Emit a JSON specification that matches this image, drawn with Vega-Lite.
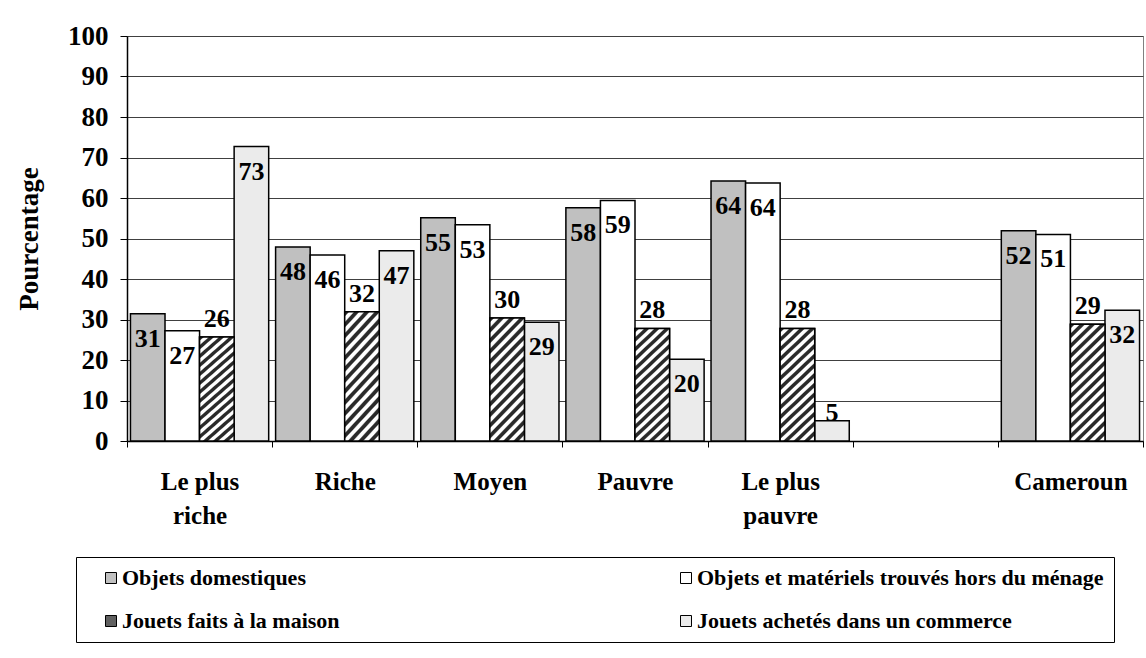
{
  "$schema": "https://vega.github.io/schema/vega-lite/v6.json",
  "width": 1016,
  "height": 405,
  "autosize": {"type": "none"},
  "padding": {"left": 127, "top": 36, "right": 3, "bottom": 217},
  "background": "white",
  "config": {
    "font": "Liberation Serif",
    "view": {"stroke": "#808080", "strokeWidth": 1}
  },
  "data": {
    "values": [
      {"cat": "Le plus riche", "serie": "Objets domestiques", "val": 31.4},
      {"cat": "Le plus riche", "serie": "Objets et matériels trouvés hors du ménage", "val": 27.2},
      {"cat": "Le plus riche", "serie": "Jouets faits à la maison", "val": 25.7},
      {"cat": "Le plus riche", "serie": "Jouets achetés dans un commerce", "val": 72.7},
      {"cat": "Riche", "serie": "Objets domestiques", "val": 47.9},
      {"cat": "Riche", "serie": "Objets et matériels trouvés hors du ménage", "val": 45.9},
      {"cat": "Riche", "serie": "Jouets faits à la maison", "val": 31.9},
      {"cat": "Riche", "serie": "Jouets achetés dans un commerce", "val": 47.0},
      {"cat": "Moyen", "serie": "Objets domestiques", "val": 55.1},
      {"cat": "Moyen", "serie": "Objets et matériels trouvés hors du ménage", "val": 53.4},
      {"cat": "Moyen", "serie": "Jouets faits à la maison", "val": 30.4},
      {"cat": "Moyen", "serie": "Jouets achetés dans un commerce", "val": 29.3},
      {"cat": "Pauvre", "serie": "Objets domestiques", "val": 57.6},
      {"cat": "Pauvre", "serie": "Objets et matériels trouvés hors du ménage", "val": 59.4},
      {"cat": "Pauvre", "serie": "Jouets faits à la maison", "val": 27.8},
      {"cat": "Pauvre", "serie": "Jouets achetés dans un commerce", "val": 20.2},
      {"cat": "Le plus pauvre", "serie": "Objets domestiques", "val": 64.2},
      {"cat": "Le plus pauvre", "serie": "Objets et matériels trouvés hors du ménage", "val": 63.7},
      {"cat": "Le plus pauvre", "serie": "Jouets faits à la maison", "val": 27.8},
      {"cat": "Le plus pauvre", "serie": "Jouets achetés dans un commerce", "val": 5.0},
      {"cat": "Cameroun", "serie": "Objets domestiques", "val": 51.9},
      {"cat": "Cameroun", "serie": "Objets et matériels trouvés hors du ménage", "val": 51.0},
      {"cat": "Cameroun", "serie": "Jouets faits à la maison", "val": 28.8},
      {"cat": "Cameroun", "serie": "Jouets achetés dans un commerce", "val": 32.3}
    ]
  },
  "encoding": {
    "x": {
      "field": "cat",
      "type": "nominal",
      "scale": {
        "domain": ["Le plus riche", "Riche", "Moyen", "Pauvre", "Le plus pauvre", " ", "Cameroun"],
        "paddingInner": 0,
        "paddingOuter": 0
      },
      "axis": {
        "title": null,
        "labelAngle": 0,
        "tickBand": "extent",
        "tickSize": 6,
        "tickColor": "black",
        "tickWidth": 1,
        "domainColor": "black",
        "domainWidth": 1.5,
        "labelFontSize": 25,
        "labelFontWeight": "bold",
        "labelColor": "black",
        "labelPadding": 22,
        "labelLineHeight": 34,
        "labelExpr": "datum.value == 'Le plus riche' ? ['Le plus', 'riche'] : datum.value == 'Le plus pauvre' ? ['Le plus', 'pauvre'] : datum.value",
        "grid": false
      }
    },
    "xOffset": {
      "field": "serie",
      "type": "nominal",
      "scale": {
        "domain": ["Objets domestiques", "Objets et matériels trouvés hors du ménage", "Jouets faits à la maison", "Jouets achetés dans un commerce"],
        "paddingInner": 0,
        "paddingOuter": 0.1
      }
    },
    "y": {
      "field": "val",
      "type": "quantitative",
      "scale": {"domain": [0, 100], "nice": false},
      "axis": {
        "title": "Pourcentage",
        "titleFontSize": 27,
        "titleFontWeight": "bold",
        "titleColor": "black",
        "titlePadding": 24,
        "values": [0, 10, 20, 30, 40, 50, 60, 70, 80, 90, 100],
        "grid": true,
        "gridColor": "#404040",
        "gridWidth": 1,
        "domainColor": "black",
        "domainWidth": 1.5,
        "tickColor": "black",
        "tickSize": 7,
        "labelFontSize": 27,
        "labelFontWeight": "bold",
        "labelColor": "black",
        "labelPadding": 12
      }
    }
  },
  "layer": [
    {
      "mark": {"type": "bar", "stroke": "black", "strokeWidth": 1.5},
      "encoding": {
        "color": {
          "field": "serie",
          "type": "nominal",
          "scale": {
            "domain": ["Objets domestiques", "Objets et matériels trouvés hors du ménage", "Jouets faits à la maison", "Jouets achetés dans un commerce"],
            "range": ["#c0c0c0", "#ffffff", "#606060", "#ebebeb"]
          },
          "legend": {
            "title": null,
            "orient": "none",
            "direction": "horizontal",
            "legendX": -51,
            "legendY": 521,
            "columns": 2,
            "columnPadding": 321,
            "rowPadding": 21,
            "padding": 10,
            "strokeColor": "black",
            "fillColor": "white",
            "symbolType": "square",
            "symbolSize": 121,
            "symbolStrokeColor": "black",
            "symbolStrokeWidth": 1,
            "symbolOffset": 14,
            "labelOffset": 0,
            "labelFontSize": 22,
            "labelFontWeight": "bold",
            "labelColor": "black",
            "labelLimit": 600
          }
        }
      }
    },
    {
      "transform": [{"filter": "datum.serie == 'Jouets faits à la maison'"}],
      "mark": {
        "type": "bar",
        "stroke": "black",
        "strokeWidth": 1.5,
        "fill": {
          "gradient": "linear",
          "x1": 0, "y1": 0, "x2": 0.345, "y2": 1.19,
          "stops": [
            {"offset": 0.0, "color": "#2a2a2a"}, {"offset": 0.0233, "color": "#2a2a2a"}, {"offset": 0.0333, "color": "#ffffff"}, {"offset": 0.0567, "color": "#ffffff"},
            {"offset": 0.0667, "color": "#2a2a2a"}, {"offset": 0.0900, "color": "#2a2a2a"}, {"offset": 0.1000, "color": "#ffffff"}, {"offset": 0.1233, "color": "#ffffff"},
            {"offset": 0.1333, "color": "#2a2a2a"}, {"offset": 0.1567, "color": "#2a2a2a"}, {"offset": 0.1667, "color": "#ffffff"}, {"offset": 0.1900, "color": "#ffffff"},
            {"offset": 0.2000, "color": "#2a2a2a"}, {"offset": 0.2233, "color": "#2a2a2a"}, {"offset": 0.2333, "color": "#ffffff"}, {"offset": 0.2567, "color": "#ffffff"},
            {"offset": 0.2667, "color": "#2a2a2a"}, {"offset": 0.2900, "color": "#2a2a2a"}, {"offset": 0.3000, "color": "#ffffff"}, {"offset": 0.3233, "color": "#ffffff"},
            {"offset": 0.3333, "color": "#2a2a2a"}, {"offset": 0.3567, "color": "#2a2a2a"}, {"offset": 0.3667, "color": "#ffffff"}, {"offset": 0.3900, "color": "#ffffff"},
            {"offset": 0.4000, "color": "#2a2a2a"}, {"offset": 0.4233, "color": "#2a2a2a"}, {"offset": 0.4333, "color": "#ffffff"}, {"offset": 0.4567, "color": "#ffffff"},
            {"offset": 0.4667, "color": "#2a2a2a"}, {"offset": 0.4900, "color": "#2a2a2a"}, {"offset": 0.5000, "color": "#ffffff"}, {"offset": 0.5233, "color": "#ffffff"},
            {"offset": 0.5333, "color": "#2a2a2a"}, {"offset": 0.5567, "color": "#2a2a2a"}, {"offset": 0.5667, "color": "#ffffff"}, {"offset": 0.5900, "color": "#ffffff"},
            {"offset": 0.6000, "color": "#2a2a2a"}, {"offset": 0.6233, "color": "#2a2a2a"}, {"offset": 0.6333, "color": "#ffffff"}, {"offset": 0.6567, "color": "#ffffff"},
            {"offset": 0.6667, "color": "#2a2a2a"}, {"offset": 0.6900, "color": "#2a2a2a"}, {"offset": 0.7000, "color": "#ffffff"}, {"offset": 0.7233, "color": "#ffffff"},
            {"offset": 0.7333, "color": "#2a2a2a"}, {"offset": 0.7567, "color": "#2a2a2a"}, {"offset": 0.7667, "color": "#ffffff"}, {"offset": 0.7900, "color": "#ffffff"},
            {"offset": 0.8000, "color": "#2a2a2a"}, {"offset": 0.8233, "color": "#2a2a2a"}, {"offset": 0.8333, "color": "#ffffff"}, {"offset": 0.8567, "color": "#ffffff"},
            {"offset": 0.8667, "color": "#2a2a2a"}, {"offset": 0.8900, "color": "#2a2a2a"}, {"offset": 0.9000, "color": "#ffffff"}, {"offset": 0.9233, "color": "#ffffff"},
            {"offset": 0.9333, "color": "#2a2a2a"}, {"offset": 0.9567, "color": "#2a2a2a"}, {"offset": 0.9667, "color": "#ffffff"}, {"offset": 0.9900, "color": "#ffffff"},
            {"offset": 1.0, "color": "#2a2a2a"}
          ]
        }
      }
    },
    {
      "transform": [{"filter": "datum.serie != 'Jouets faits à la maison' && datum.val >= 10"}],
      "mark": {"type": "text", "fontSize": 26, "fontWeight": "bold", "color": "black", "baseline": "middle", "dy": 25},
      "encoding": {"text": {"field": "val", "type": "quantitative", "format": ".0f"}}
    },
    {
      "transform": [{"filter": "datum.serie == 'Jouets faits à la maison'"}],
      "mark": {"type": "text", "fontSize": 26, "fontWeight": "bold", "color": "black", "baseline": "alphabetic", "dy": -10},
      "encoding": {"text": {"field": "val", "type": "quantitative", "format": ".0f"}}
    },
    {
      "transform": [{"filter": "datum.serie != 'Jouets faits à la maison' && datum.val < 10"}],
      "mark": {"type": "text", "fontSize": 26, "fontWeight": "bold", "color": "black", "baseline": "alphabetic", "dy": 0},
      "encoding": {"text": {"field": "val", "type": "quantitative", "format": ".0f"}}
    }
  ]
}
